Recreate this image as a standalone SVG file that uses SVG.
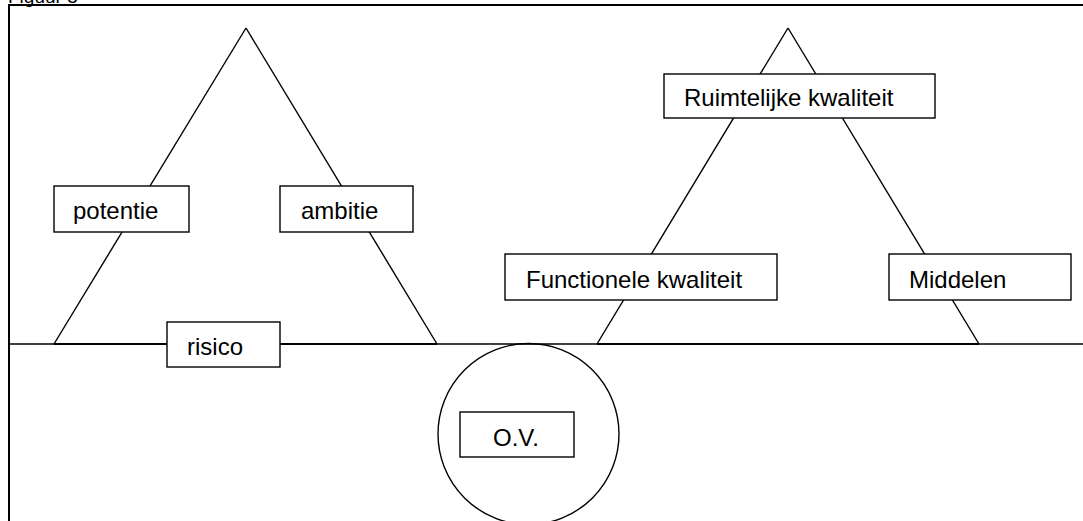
<svg xmlns="http://www.w3.org/2000/svg" width="1083" height="521" viewBox="0 0 1083 521">
  <style>
    .ln { stroke: #000; stroke-width: 1.4; fill: none; }
    .base { stroke: #000; stroke-width: 2; fill: none; }
    .frame { stroke: #000; stroke-width: 2; fill: none; }
    .box { fill: #fff; stroke: #000; stroke-width: 1.4; }
    .lbl { font-family: "Liberation Sans", Arial, sans-serif; font-size: 24px; fill: #000; }
  </style>
  <rect width="1083" height="521" fill="#fff"/>

  <!-- caption, partly above the page edge -->
  <text x="8" y="3" font-family="Liberation Sans, Arial, sans-serif" font-size="19" fill="#000">Figuur 5</text>

  <!-- outer frame -->
  <g id="frame">
    <line class="frame" x1="8" y1="5" x2="1083" y2="5"/>
    <line class="frame" x1="9" y1="5" x2="9" y2="521"/>
  </g>

  <g id="connectors">
    <line class="ln" x1="9" y1="344" x2="1083" y2="344"/>
    <!-- left triangle -->
    <line class="ln" x1="246" y1="28" x2="54" y2="344"/>
    <line class="ln" x1="246" y1="28" x2="437" y2="344"/>
    <line class="base" x1="54" y1="344" x2="437" y2="344"/>
    <!-- right triangle -->
    <line class="ln" x1="788" y1="28" x2="597" y2="344"/>
    <line class="ln" x1="788" y1="28" x2="979" y2="344"/>
    <line class="base" x1="597" y1="344" x2="979" y2="344"/>
  </g>

  <g id="node-ov-circle">
    <circle class="ln" cx="528.5" cy="434" r="90.5"/>
  </g>

  <g id="node-potentie">
    <rect class="box" x="54" y="186" width="135" height="46"/>
    <text class="lbl" x="73" y="219">potentie</text>
  </g>
  <g id="node-ambitie">
    <rect class="box" x="280" y="186" width="133" height="46"/>
    <text class="lbl" x="301" y="219">ambitie</text>
  </g>
  <g id="node-risico">
    <rect class="box" x="167" y="322" width="113" height="45"/>
    <text class="lbl" x="187" y="355">risico</text>
  </g>
  <g id="node-ruimtelijke">
    <rect class="box" x="664" y="74" width="271" height="44"/>
    <text class="lbl" x="684" y="106">Ruimtelijke kwaliteit</text>
  </g>
  <g id="node-functionele">
    <rect class="box" x="505" y="254" width="272" height="46"/>
    <text class="lbl" x="526" y="288">Functionele kwaliteit</text>
  </g>
  <g id="node-middelen">
    <rect class="box" x="889" y="254" width="182" height="46"/>
    <text class="lbl" x="909" y="288">Middelen</text>
  </g>
  <g id="node-ov">
    <rect class="box" x="460" y="412" width="114" height="45"/>
    <text class="lbl" x="493" y="446">O.V.</text>
  </g>
</svg>
